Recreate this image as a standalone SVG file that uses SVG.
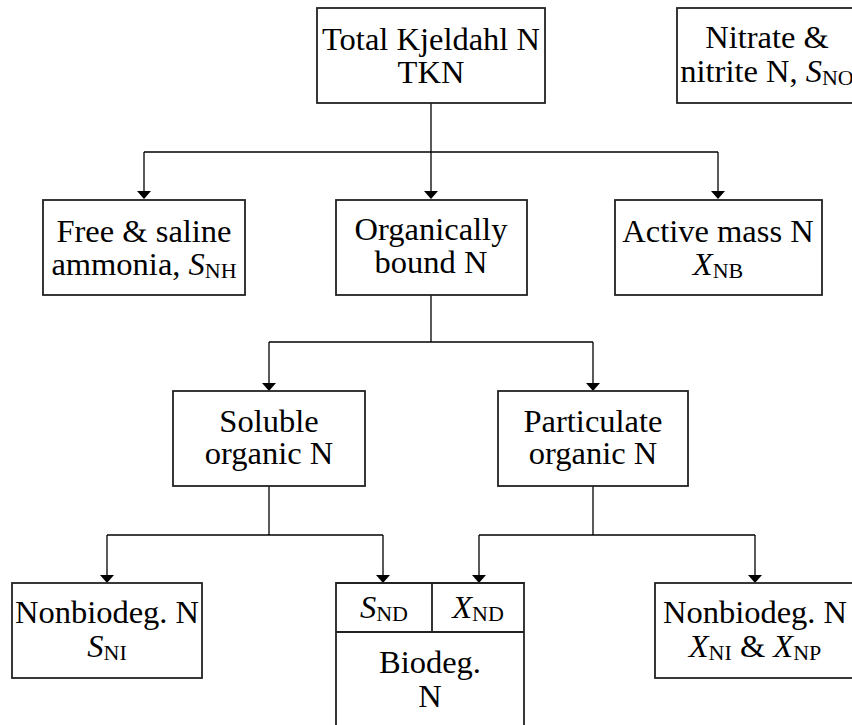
<svg xmlns="http://www.w3.org/2000/svg" width="852" height="725" viewBox="0 0 852 725">
<defs>
<style>
.box{fill:#fff;stroke:#222;stroke-width:1.8}
.ln{fill:none;stroke:#000;stroke-width:1.3}
text{font-family:"Liberation Serif","Times New Roman",serif;font-size:32.5px;fill:#000;text-anchor:middle}
.i{font-style:italic}
.s{font-size:22px}
</style>
<marker id="ah" markerWidth="8" markerHeight="14" refX="7" refY="7" orient="auto" markerUnits="userSpaceOnUse" viewBox="0 0 8 14">
<path d="M0,0 L8,7 L0,14 Z" fill="#000"/>
</marker>
</defs>
<rect width="852" height="725" fill="#fff"/>
<g id="connectors">
<path class="ln" d="M431,103 V198" marker-end="url(#ah)"/>
<path class="ln" d="M144,152 H718"/>
<path class="ln" d="M144,152 V198" marker-end="url(#ah)"/>
<path class="ln" d="M718,152 V198" marker-end="url(#ah)"/>
<path class="ln" d="M431,295 V342"/>
<path class="ln" d="M269,342 H593"/>
<path class="ln" d="M269,342 V390" marker-end="url(#ah)"/>
<path class="ln" d="M593,342 V390" marker-end="url(#ah)"/>
<path class="ln" d="M269,486 V535"/>
<path class="ln" d="M107,535 H383"/>
<path class="ln" d="M107,535 V582" marker-end="url(#ah)"/>
<path class="ln" d="M383,535 V582" marker-end="url(#ah)"/>
<path class="ln" d="M593,486 V535"/>
<path class="ln" d="M479,535 H755"/>
<path class="ln" d="M479,535 V582" marker-end="url(#ah)"/>
<path class="ln" d="M755,535 V582" marker-end="url(#ah)"/>
</g>
<g id="tkn">
<rect class="box" x="317" y="8" width="228" height="95"/>
<text x="431" y="50">Total Kjeldahl N</text>
<text x="431" y="83">TKN</text>
</g>
<g id="nitrate">
<rect class="box" x="677" y="8" width="190" height="95"/>
<text x="767" y="48">Nitrate &amp;</text>
<text x="767" y="82">nitrite N, <tspan class="i">S</tspan><tspan class="s" dy="3">NO</tspan></text>
</g>
<g id="free">
<rect class="box" x="43" y="200" width="202" height="95"/>
<text x="144" y="242">Free &amp; saline</text>
<text x="144" y="275">ammonia, <tspan class="i">S</tspan><tspan class="s" dy="3">NH</tspan></text>
</g>
<g id="organic">
<rect class="box" x="336" y="200" width="191" height="95"/>
<text x="431" y="240">Organically</text>
<text x="431" y="273">bound N</text>
</g>
<g id="active">
<rect class="box" x="615" y="200" width="207" height="95"/>
<text x="718" y="242">Active mass N</text>
<text x="718" y="275"><tspan class="i">X</tspan><tspan class="s" dy="3">NB</tspan></text>
</g>
<g id="soluble">
<rect class="box" x="173" y="391" width="192" height="95"/>
<text x="269" y="432">Soluble</text>
<text x="269" y="464">organic N</text>
</g>
<g id="particulate">
<rect class="box" x="498" y="391" width="190" height="95"/>
<text x="593" y="432">Particulate</text>
<text x="593" y="464">organic N</text>
</g>
<g id="nonbiodeg-s">
<rect class="box" x="12" y="583" width="190" height="95"/>
<text x="107" y="623">Nonbiodeg. N</text>
<text x="107" y="657"><tspan class="i">S</tspan><tspan class="s" dy="3">NI</tspan></text>
</g>
<g id="biodeg">
<path class="box" d="M336,730 V583 H524 V730"/>
<path class="box" d="M336,632 H524 M432,583 V632" fill="none"/>
<text x="384" y="618"><tspan class="i">S</tspan><tspan class="s" dy="3">ND</tspan></text>
<text x="478" y="618"><tspan class="i">X</tspan><tspan class="s" dy="3">ND</tspan></text>
<text x="430" y="673">Biodeg.</text>
<text x="430" y="707">N</text>
</g>
<g id="nonbiodeg-x">
<rect class="box" x="655" y="583" width="205" height="95"/>
<text x="755" y="623">Nonbiodeg. N</text>
<text x="755" y="657"><tspan class="i">X</tspan><tspan class="s" dy="3">NI</tspan><tspan dy="-3"> &amp; </tspan><tspan class="i">X</tspan><tspan class="s" dy="3">NP</tspan></text>
</g>
</svg>
